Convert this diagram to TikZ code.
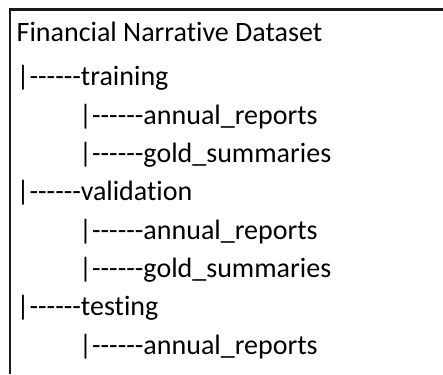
\documentclass[tikz,border=0pt]{standalone}
\usepackage{fontspec}
\setmainfont{Carlito}[Ligatures={NoCommon}]
\newcommand\sixdash{-{}-{}-{}-{}-{}-}
\begin{document}
\begin{tikzpicture}[x=1pt,y=-1pt,
  line/.style={anchor=base west,inner sep=0pt,font=\fontsize{28}{32}\selectfont,text=black}]
\useasboundingbox (0,0) rectangle (443,374);
\draw[line width=2.2pt,color=black!90] (10,374) -- (10,9.5) -- (443,9.5);
\node[line] (title) at (16.5,41.7) {Financial Narrative Dataset};
\node[line] (train) at (16.5,86) {|\sixdash training};
\node[line] (trainA) at (79,124.3) {|\sixdash annual\_reports};
\node[line] (trainG) at (79,162.6) {|\sixdash gold\_summaries};
\node[line] (valid) at (16.5,200.9) {|\sixdash validation};
\node[line] (validA) at (79,239.2) {|\sixdash annual\_reports};
\node[line] (validG) at (79,277.5) {|\sixdash gold\_summaries};
\node[line] (test) at (16.5,315.8) {|\sixdash testing};
\node[line] (testA) at (79,354) {|\sixdash annual\_reports};
\end{tikzpicture}
\end{document}
